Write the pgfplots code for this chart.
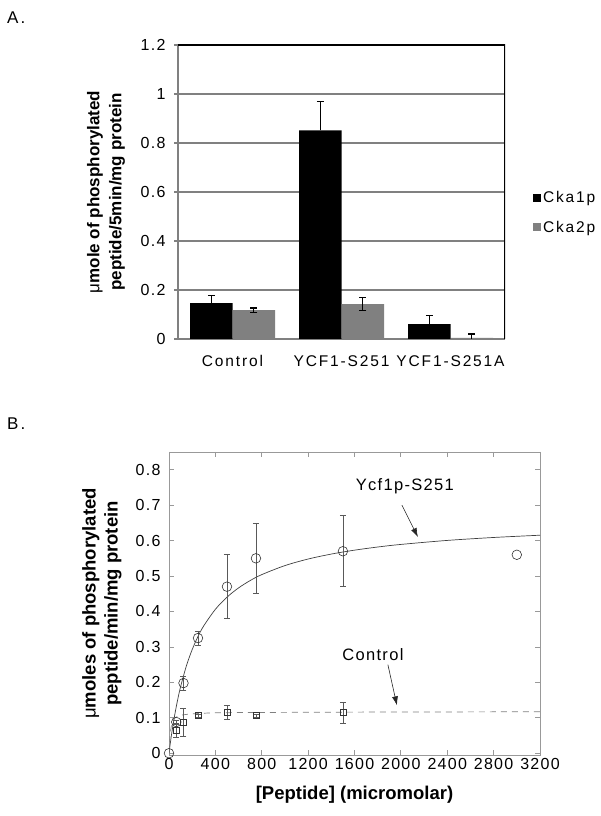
\documentclass[border=0pt]{standalone}
\usepackage{fontspec}
\setmainfont{Liberation Sans}
\newfontfamily\trackA[LetterSpace=8]{Liberation Sans}
\newfontfamily\trackB[LetterSpace=12]{Liberation Sans}
\usepackage{pgfplots}
\pgfplotsset{compat=1.18}
\usetikzlibrary{arrows.meta}
\begin{document}
\begin{tikzpicture}
\path[use as bounding box] (0,0) rectangle (601bp,816bp);
\node[anchor=west, font=\trackB\fontsize{17bp}{20bp}\selectfont, inner sep=0pt] at (7bp,798bp) {A.};
\node[anchor=west, font=\trackB\fontsize{17bp}{20bp}\selectfont, inner sep=0pt] at (7bp,392bp) {B.};
% ---------- Panel A ----------
\begin{axis}[
  scale only axis, width=327bp, height=294bp,
  at={(178bp,477bp)}, anchor=south west,
  ybar, bar width=42.5bp,
  xmin=-0.5, xmax=2.5, ymin=0, ymax=1.2,
  xtick={0,1,2}, xticklabels={Control,YCF1-S251,YCF1-S251A},
  xtick style={draw=none},
  extra x ticks={-0.5,0.5,1.5,2.5}, extra x tick labels={},
  extra x tick style={tick style={draw=gray, line width=1.5bp}, major tick length=4bp, tick align=outside, grid=none},
  ytick={0,0.2,0.4,0.6,0.8,1,1.2}, yticklabels={0,0.2,0.4,0.6,0.8,1,1.2},
  ytick style={draw=gray, line width=1.5bp},
  tick align=outside, major tick length=4bp,
  ymajorgrids, grid style={gray, line width=1.6bp},
  axis x line*=bottom, axis y line*=left,
  axis line style={gray, line width=1.5bp},
  /pgf/number format/assume math mode=true,
  yticklabel style={font=\trackA\fontsize{16bp}{19bp}\selectfont, xshift=-5bp},
  xticklabel style={font=\trackB\fontsize{15.5bp}{19bp}\selectfont, yshift=-9bp},
  ylabel={{\mdseries μ}mole of phosphorylated\\peptide/5min/mg protein},
  ylabel style={at={(axis description cs:-0.22,0.5)}, anchor=center, align=center, font=\bfseries\fontsize{17bp}{22bp}\selectfont},
  legend style={at={(1.076,0.43)}, anchor=west, draw=none, fill=none, font=\trackB\fontsize{15.5bp}{19bp}\selectfont, row sep=13bp, legend cell align=left},
  legend image code/.code={\fill[#1] (0bp,-4bp) rectangle (8bp,4bp);},
]
\addplot[fill=black, draw=none, bar shift=-21.25bp,
  error bars/.cd, y dir=plus, y explicit,
  error bar style={black, line width=1.3bp},
  error mark options={rotate=90, mark size=3.5bp, black, line width=1.3bp}]
  coordinates {(0,0.146) +- (0,0.032) (1,0.851) +- (0,0.118) (2,0.061) +- (0,0.036)};
\addlegendentry{Cka1p}
\addplot[fill=gray, draw=none, bar shift=21.25bp,
  error bars/.cd, y dir=both, y explicit,
  error bar style={black, line width=1.3bp},
  error mark options={rotate=90, mark size=3.5bp, black, line width=1.3bp}]
  coordinates {(0,0.118) +- (0,0.009) (1,0.142) +- (0,0.027) (2,0.005) +- (0,0.015)};
\addlegendentry{Cka2p}
\draw[black, line width=1.6bp] (rel axis cs:0,1) -- (rel axis cs:1,1) -- (rel axis cs:1,0);
\end{axis}
% ---------- Panel B ----------
\begin{axis}[
  scale only axis, width=371bp, height=303bp,
  at={(169bp,61bp)}, anchor=south west,
  xmin=0, xmax=3200, ymin=-0.005, ymax=0.85,
  xtick={0,400,800,1200,1600,2000,2400,2800,3200},
  xticklabels={0,400,800,1200,1600,2000,2400,2800,3200},
  ytick={0,0.1,0.2,0.3,0.4,0.5,0.6,0.7,0.8},
  yticklabels={0,0.1,0.2,0.3,0.4,0.5,0.6,0.7,0.8},
  tick align=inside, major tick length=5bp,
  axis line style={gray!80, line width=0.8bp},
  tick style={gray!80, line width=0.8bp},
  /pgf/number format/assume math mode=true,
  yticklabel style={font=\trackA\fontsize{16bp}{19bp}\selectfont, xshift=-5bp},
  xticklabel style={font=\trackA\fontsize{16bp}{19bp}\selectfont},
  xlabel={[Peptide] (micromolar)},
  xlabel style={at={(axis description cs:0.5,-0.132)}, anchor=center, font=\bfseries\fontsize{18.5bp}{22bp}\selectfont},
  ylabel={{\mdseries μ}moles of phosphorylated\\peptide/min/mg protein},
  ylabel style={at={(axis description cs:-0.181,0.5)}, anchor=center, align=center, font=\bfseries\fontsize{18.5bp}{22bp}\selectfont},
]
% fitted hyperbola (Ycf1p-S251)
\addplot[gray!50!black, line width=0.7bp, no marks, smooth] coordinates {
 (0,0) (10,0.0252) (25,0.0595) (50,0.1092) (75,0.1514) (100,0.1876) (150,0.2465)
 (200,0.2925) (250,0.3294) (300,0.3596) (400,0.4061) (500,0.4403) (600,0.4665)
 (700,0.4872) (800,0.5040) (1000,0.5295) (1200,0.5480) (1400,0.5620) (1600,0.5730)
 (1800,0.5819) (2000,0.5892) (2400,0.6005) (2800,0.6088) (3200,0.6152)};
% fitted line (Control)
\addplot[gray, line width=0.7bp, dash pattern=on 6bp off 5bp, no marks, smooth] coordinates {
 (0,0) (10,0.052) (25,0.084) (50,0.099) (100,0.107) (200,0.111) (400,0.114)
 (800,0.115) (1600,0.116) (3200,0.117)};
% Ycf1p-S251 data with error bars
\addplot[only marks, mark=o, mark size=4.8bp, gray!40!black, line width=0.6bp,
  error bars/.cd, y dir=both, y explicit,
  error bar style={gray!70!black, line width=0.6bp},
  error mark options={rotate=90, mark size=3bp, gray!70!black, line width=0.6bp}]
  coordinates {(62.5,0.088) +- (0,0.006) (125,0.198) +- (0,0.02)
   (250,0.325) +- (0,0.02) (500,0.47) +- (0,0.09) (750,0.55) +- (0,0.10)
   (1500,0.57) +- (0,0.10)};
% Ycf1p-S251 data without error bars
\addplot[only marks, mark=o, mark size=4.8bp, gray!40!black, line width=0.6bp]
  coordinates {(0,0) (3000,0.56)};
% Control data
\addplot[only marks, mark=square, mark size=3bp, gray!40!black, line width=0.6bp,
  error bars/.cd, y dir=both, y explicit,
  error bar style={gray!70!black, line width=0.6bp},
  error mark options={rotate=90, mark size=3bp, gray!70!black, line width=0.6bp}]
  coordinates {(62.5,0.065) +- (0,0.02) (125,0.087) +- (0,0.04) (250,0.106) +- (0,0.004)
   (500,0.116) +- (0,0.02) (750,0.106) +- (0,0.004) (1500,0.115) +- (0,0.03)};
\node[font=\trackA\fontsize{16.5bp}{19bp}\selectfont] at (axis cs:2034,0.752) {Ycf1p-S251};
\draw[gray!30!black, line width=0.6bp, -{Latex[length=9bp,width=6bp]}] (axis cs:2009,0.70) -- (axis cs:2147,0.61);
\node[font=\trackA\fontsize{16.5bp}{19bp}\selectfont] at (axis cs:1759,0.277) {Control};
\draw[gray!30!black, line width=0.6bp, -{Latex[length=9bp,width=6bp]}] (axis cs:1888,0.25) -- (axis cs:1966,0.135);
\end{axis}
\end{tikzpicture}
\end{document}
